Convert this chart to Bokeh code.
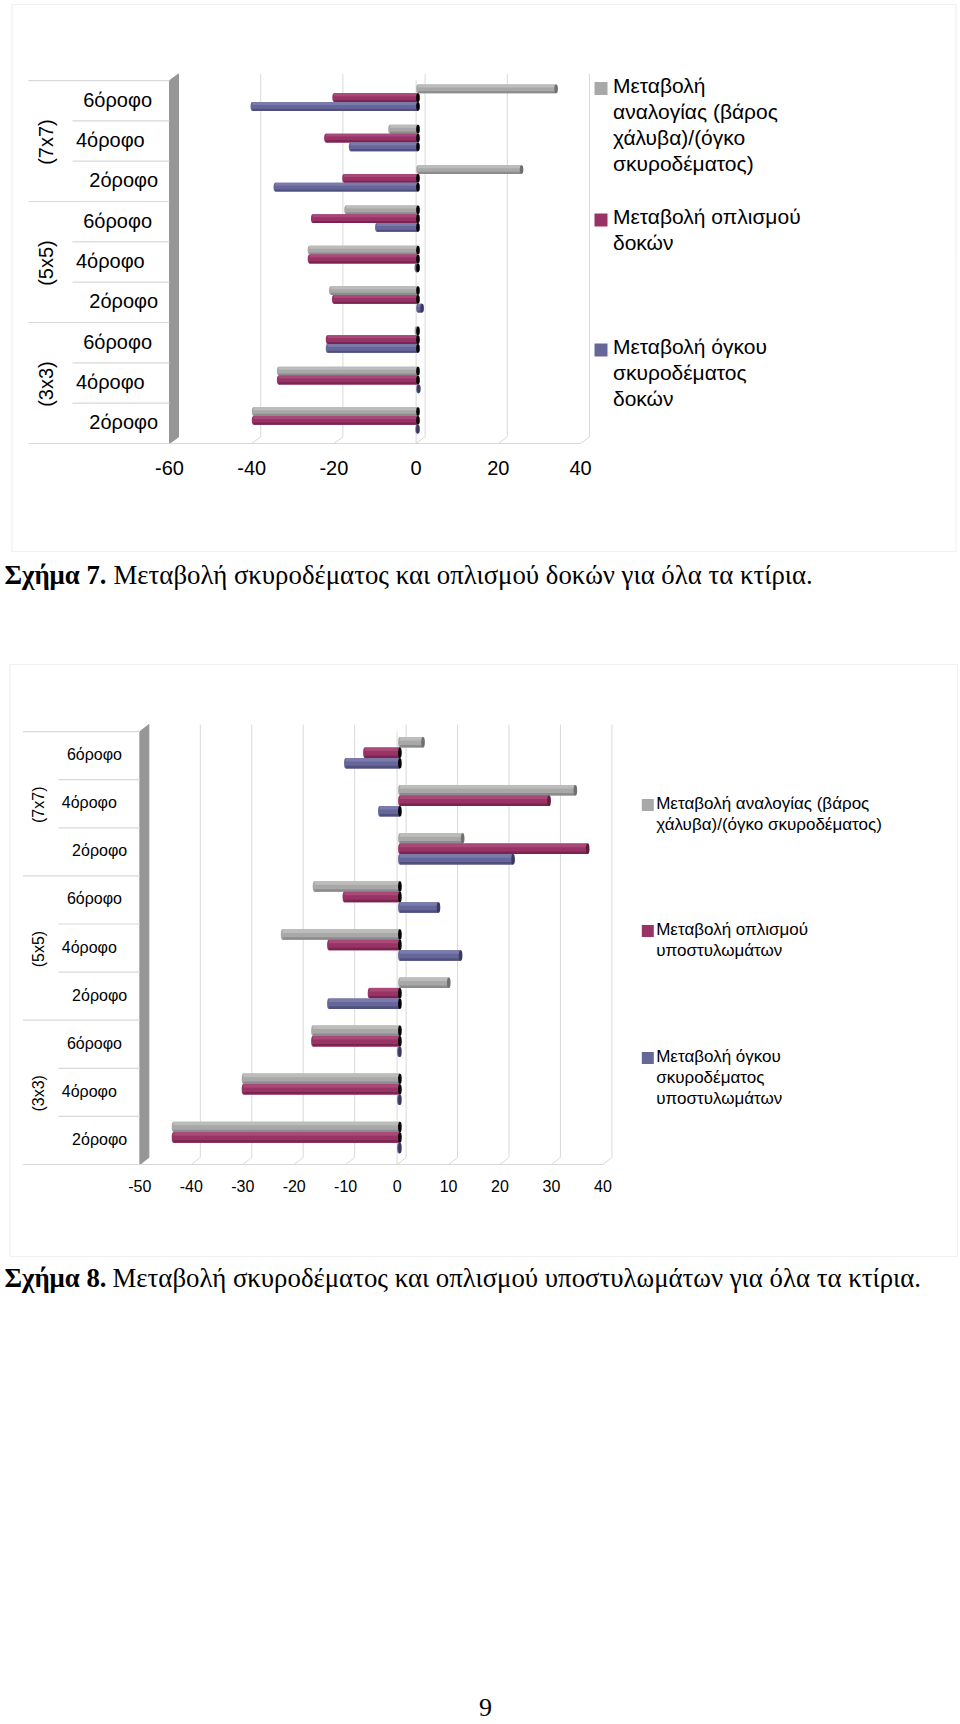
from bokeh.plotting import figure
from bokeh.layouts import column
from bokeh.models import Range1d, Label, BoxAnnotation, FixedTicker
from bokeh.embed import file_html
from bokeh.resources import INLINE

# ---------- data ----------
storeys = ["6όροφο", "4όροφο", "2όροφο"] * 3
groups = ["(7x7)", "(5x5)", "(3x3)"]

beam_ratio = [33.6, -6.8, 25.2, -17.5, -26.4, -21.2, -0.4, -33.9, -40.0]
beam_steel = [-20.4, -22.4, -18.0, -25.6, -26.4, -20.5, -22.0, -33.9, -40.0]
beam_conc = [-40.3, -16.4, -34.7, -10.0, -0.4, 1.0, -22.0, 0.2, -0.2]
beam_ticks = [-60, -40, -20, 0, 20, 40]
beam_legend = [["Μεταβολή", "αναλογίας (βάρος", "χάλυβα)/(όγκο", "σκυροδέματος)"],
               ["Μεταβολή οπλισμού", "δοκών"],
               ["Μεταβολή όγκου", "σκυροδέματος", "δοκών"]]
beam_bold = "Σχήμα 7."
beam_caption = "Μεταβολή σκυροδέματος και οπλισμού δοκών για όλα τα κτίρια."

col_ratio = [4.5, 34.1, 12.2, -16.6, -22.8, 9.5, -16.9, -30.4, -44.0]
col_steel = [-6.8, 29.0, 36.5, -10.8, -13.8, -5.9, -16.9, -30.4, -44.0]
col_conc = [-10.5, -3.9, 22.0, 7.5, 11.8, -13.8, -0.2, -0.2, -0.2]
col_ticks = [-50, -40, -30, -20, -10, 0, 10, 20, 30, 40]
col_legend = [["Μεταβολή αναλογίας (βάρος", "χάλυβα)/(όγκο σκυροδέματος)"],
              ["Μεταβολή οπλισμού", "υποστυλωμάτων"],
              ["Μεταβολή όγκου", "σκυροδέματος", "υποστυλωμάτων"]]
col_bold = "Σχήμα 8."
col_caption = "Μεταβολή σκυροδέματος και οπλισμού υποστυλωμάτων για όλα τα κτίρια."
page_number = "9"

# ---------- style ----------
SANS, SERIF = "Liberation Sans", "Liberation Serif"
GRID = "#d9d9d9"
WALL = "#969696"
SER = [("#a8a8a8", "#bcbcbc", "#8c8c8c", "#6f6f6f"),
       ("#993366", "#a8497a", "#7a2450", "#5f1a3c"),
       ("#666699", "#7a7aac", "#4f4f80", "#3a3a60")]


def chart(series, ticks, legend, bold, caption, cfg, footer=None):
    """cfg holds the pixel layout of one panel, relative to the page."""
    top0 = cfg["page_top"]
    floor = cfg["floor"] - top0
    row = cfg["row"]
    sx = cfg["sx"]
    x0 = cfg["x0"]

    p = figure(width=960, height=cfg["height"], output_backend="svg", toolbar_location=None,
               y_axis_location=None, min_border_left=0, min_border_right=0, min_border_top=0,
               min_border_bottom=0, outline_line_color=None,
               x_range=Range1d(-x0 / sx, (960 - x0) / sx),
               y_range=Range1d(-(cfg["height"] - floor) / row, floor / row))
    p.grid.visible = False
    ax = p.xaxis[0]
    ax.fixed_location = 0
    ax.ticker = FixedTicker(ticks=ticks)
    ax.major_label_overrides = {t: str(t) for t in ticks}
    ax.axis_line_color = None
    ax.major_tick_line_color = None
    ax.minor_tick_line_color = None
    ax.major_label_text_font = SANS
    ax.major_label_text_font_size = cfg["font"]
    ax.major_label_text_color = "#000000"
    ax.major_label_standoff = cfg["standoff"]

    X = lambda px: (px - x0) / sx
    Y = lambda py: (cfg["floor"] - py) / row

    def label(text, px, py, size, font=SANS, align="left", angle=0, style="normal"):
        p.add_layout(Label(x=X(px), y=Y(py), text=text, text_font=font, text_font_size=size,
                           text_align=align, text_baseline="middle", angle=angle,
                           angle_units="deg", text_color="#000000", text_font_style=style))

    # panel border
    p.add_layout(BoxAnnotation(left=X(cfg["panel"][0]), right=X(cfg["panel"][2]),
                               top=Y(cfg["panel"][1]), bottom=Y(cfg["panel"][3]),
                               fill_alpha=0, line_color="#cfcfcf", line_width=1.2, level="underlay"))

    ddx = cfg["ddx"] / sx
    ddy = cfg["ddy"] / row
    n = len(storeys)
    ymax = float(n)
    # back-wall gridlines and their floor ticks
    for t in ticks[1:]:
        p.line([t, t + ddx, t + ddx], [0, ddy, ymax + ddy], line_color=GRID, line_width=1)
    p.line([0, 0], [0, ymax], line_color=GRID, line_width=1)
    # side wall
    lo = ticks[0]
    p.patch([lo, lo + ddx, lo + ddx, lo], [ymax, ymax + ddy, ddy, 0], fill_color=WALL, line_color=WALL)
    # table lines
    for i in range(n + 1):
        left = cfg["outer"] if i % 3 == 0 else cfg["inner"]
        p.line([X(left), lo], [n - i, n - i], line_color=GRID, line_width=1.2)
    p.line([lo, ticks[-1]], [0, 0], line_color=GRID, line_width=1.2)

    # bars: three series per storey, with a light and a dark strip for the 3D look
    h = 0.218
    offs = cfg["bar_off"] / sx
    shift = cfg["bar_shift"] / row
    cap_w, cap_h = 3.6, h * row
    for s, vals in enumerate(series):
        base, light, dark, capc = SER[s]
        ys = [n - 1 - i + 0.5 + shift + (1 - s) * h for i in range(n)]
        left = [min(v, 0) + offs for v in vals]
        right = [max(v, 0) + offs for v in vals]
        p.ellipse(left, ys, width=cap_w, height=cap_h, width_units="screen", height_units="screen",
                  fill_color=base, line_color=None)
        p.hbar(y=ys, left=left, right=right, height=h, fill_color=base, line_color=None)
        p.hbar(y=[y + h * 0.33 for y in ys], left=left, right=right, height=h * 0.34,
               fill_color=light, line_color=None)
        p.hbar(y=[y - h * 0.38 for y in ys], left=left, right=right, height=h * 0.24,
               fill_color=dark, line_color=None)
        cols = ["#000000" if v < -0.3 else capc for v in vals]
        p.ellipse(right, ys, width=cap_w, height=cap_h, width_units="screen", height_units="screen",
                  fill_color=cols, line_color=None)

    # category labels
    for i, name in enumerate(storeys):
        py = cfg["floor"] - (n - i - 0.5) * row - 1
        label(name, cfg["label_x"][i % 3], py, cfg["font"])
    for g, name in enumerate(groups):
        py = cfg["floor"] - (n - 3 * g - 1.5) * row + 1
        label(name, cfg["group_x"], py, cfg["font"], align="center", angle=90)

    # legend
    for k, lines in enumerate(legend):
        y0 = cfg["leg_y"][k]
        p.rect([X(cfg["sw_x"] + cfg["sw"] / 2)], [Y(y0 + cfg["sw_dy"])], width=cfg["sw"], height=cfg["sw"],
               width_units="screen", height_units="screen", fill_color=SER[k][0], line_color=None)
        for j, line in enumerate(lines):
            label(line, cfg["leg_x"], y0 + j * cfg["leg_lh"], cfg["leg_font"])

    # caption
    label(bold, 4, cfg["cap_y"], cfg["cap_font"], font=SERIF, style="bold")
    label(caption, cfg["cap_x"], cfg["cap_y"], cfg["cap_font"], font=SERIF)
    if footer:
        label(footer, 485, 1707, "26px", font=SERIF, align="center")
    return p


f1 = chart([beam_ratio, beam_steel, beam_conc], beam_ticks, beam_legend, beam_bold, beam_caption,
           dict(page_top=0, height=650, floor=443, row=40.33, sx=4.11, x0=415.6, ddx=9, ddy=6.6,
                font="20px", standoff=11, panel=(11.5, 4, 955.5, 551), outer=28, inner=72,
                bar_off=1.9, bar_shift=3.0, label_x=(82.7, 75.4, 88.8), group_x=45.5,
                leg_y=(84.5, 216, 346), leg_x=612.5, leg_lh=26.2, leg_font="21px",
                sw_x=594, sw=13, sw_dy=3.5, cap_y=574, cap_x=113, cap_font="26.8px"))
f2 = chart([col_ratio, col_steel, col_conc], col_ticks, col_legend, col_bold, col_caption,
           dict(page_top=650, height=1074, floor=1164, row=48.1, sx=5.145, x0=396.6, ddx=9, ddy=7,
                font="16px", standoff=9, panel=(9.5, 664, 957, 1256), outer=22.5, inner=58,
                bar_off=2.8, bar_shift=3.0, label_x=(66.4, 61.3, 71.6), group_x=37.5,
                leg_y=(803, 929, 1056), leg_x=655.7, leg_lh=21, leg_font="17px",
                sw_x=641.3, sw=12, sw_dy=1.5, cap_y=1277, cap_x=112, cap_font="26.8px"),
           footer=page_number)

page = column(f1, f2, spacing=0, styles={"position": "absolute", "left": "0px", "top": "0px"})
open("out.html", "w").write(file_html(page, INLINE))
